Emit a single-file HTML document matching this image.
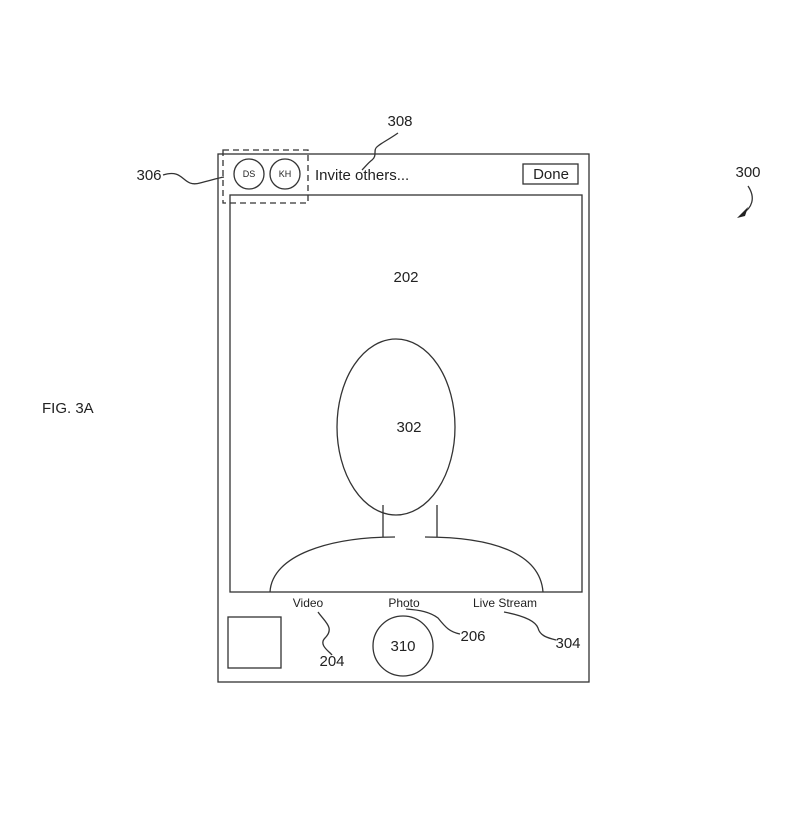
<!DOCTYPE html>
<html><head><meta charset="utf-8"><style>
html,body{margin:0;padding:0;background:#fff}
svg text{font-family:"Liberation Sans",sans-serif;fill:#222}
</style></head><body>
<svg width="787" height="812" viewBox="0 0 787 812" xmlns="http://www.w3.org/2000/svg">
<g fill="none" stroke="#333" stroke-width="1.3">
<rect x="218" y="154" width="371" height="528"/>
<rect x="230" y="195" width="352" height="397"/>
<rect x="223" y="150" width="85" height="53" stroke-dasharray="6,4"/>
<circle cx="249" cy="174" r="15"/>
<circle cx="285" cy="174" r="15"/>
<rect x="523" y="164" width="55" height="20"/>
<ellipse cx="396" cy="427" rx="59" ry="88"/>
<line x1="383" y1="505" x2="383" y2="537"/>
<line x1="437" y1="505" x2="437" y2="537"/>
<path d="M270 592 C272 555 330 537 395 537"/>
<path d="M425 537 C490 537 540 552 543 592"/>
<rect x="228" y="617" width="53" height="51"/>
<circle cx="403" cy="646" r="30"/>
<path d="M163 175 C185 168 182 188 200 183 C212 180 218 178 224 177"/>
<path d="M398 133 C388 140 383 142 378 146 C372 150 378 155 372 160 C368 163 366 166 362 170"/>
<path d="M318 612 C325 622 335 628 325 638 C318 645 330 652 332 655"/>
<path d="M406 609 C420 610 430 612 438 618 C446 628 450 632 460 634"/>
<path d="M504 612 C520 615 535 620 538 628 C540 636 548 638 556 640"/>
<path d="M748 186 C756 198 752 208 742 214"/>
</g>
<path d="M737 218 L748 207 L745 216 Z" fill="#222"/>
<g font-size="15">
<text x="748" y="177" text-anchor="middle">300</text>
<text x="149" y="180" text-anchor="middle">306</text>
<text x="400" y="126" text-anchor="middle">308</text>
<text x="406" y="282" text-anchor="middle">202</text>
<text x="409" y="432" text-anchor="middle">302</text>
<text x="403" y="651" text-anchor="middle">310</text>
<text x="332" y="666" text-anchor="middle">204</text>
<text x="473" y="641" text-anchor="middle">206</text>
<text x="568" y="648" text-anchor="middle">304</text>
<text x="42" y="413">FIG. 3A</text>
<text x="315" y="180">Invite others...</text>
<text x="551" y="179" text-anchor="middle">Done</text>
</g>
<g font-size="12">
<text x="308" y="607" text-anchor="middle">Video</text>
<text x="404" y="607" text-anchor="middle">Photo</text>
<text x="505" y="607" text-anchor="middle">Live Stream</text>
</g>
<g font-size="9">
<text x="249" y="177" text-anchor="middle">DS</text>
<text x="285" y="177" text-anchor="middle">KH</text>
</g>
</svg>
</body></html>
